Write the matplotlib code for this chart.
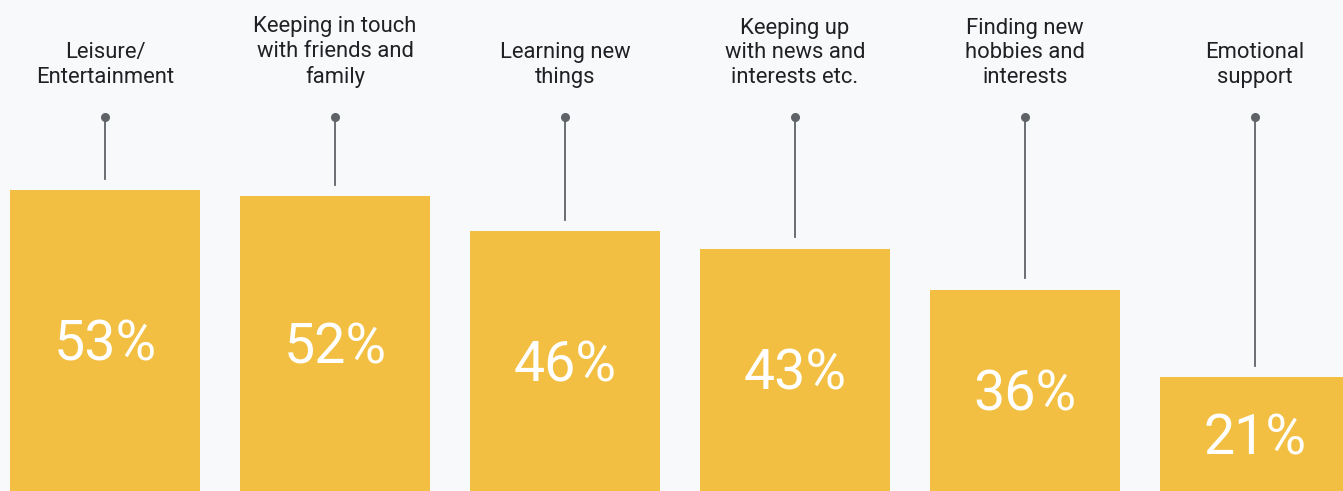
import matplotlib.pyplot as plt

categories = ['Leisure/\nEntertainment', 'Keeping in touch\nwith friends and\nfamily',
              'Learning new\nthings', 'Keeping up\nwith news and\ninterests etc.',
              'Finding new\nhobbies and\ninterests', 'Emotional\nsupport']
values = [53, 52, 46, 43, 36, 21]

bg = '#f8f9fa'
bar_col = '#f2bf42'
line_col = '#5f6368'
text_col = '#202124'

plt.rcParams['font.family'] = ['Roboto', 'DejaVu Sans']

fig = plt.figure(figsize=(13.43, 4.91), dpi=100, facecolor=bg)
ax = fig.add_axes([0, 0, 1, 1])
ax.set_facecolor(bg)

x = list(range(len(values)))
ax.bar(x, values, width=0.83, color=bar_col, zorder=2)

dot_y = 65.6
label_y = 70.6
for xi, v, lab in zip(x, values, categories):
    ax.plot([xi, xi], [v + 2.0, dot_y], color=line_col, lw=1.3, zorder=1)
    ax.plot(xi, dot_y, 'o', color=line_col, ms=5.5, zorder=3)
    ax.text(xi, label_y, lab, ha='center', va='bottom', fontsize=15.8,
            color=text_col, linespacing=1.22)
    ax.text(xi, v / 2, '{}%'.format(v), ha='center', va='center',
            fontsize=40, fontweight='normal', color='white', zorder=4)

ax.set_xlim(-0.4565, 5.3826)
ax.set_ylim(1.54, 85.6)
ax.axis('off')

plt.savefig('out.png', dpi=100, facecolor=bg)
plt.close()
